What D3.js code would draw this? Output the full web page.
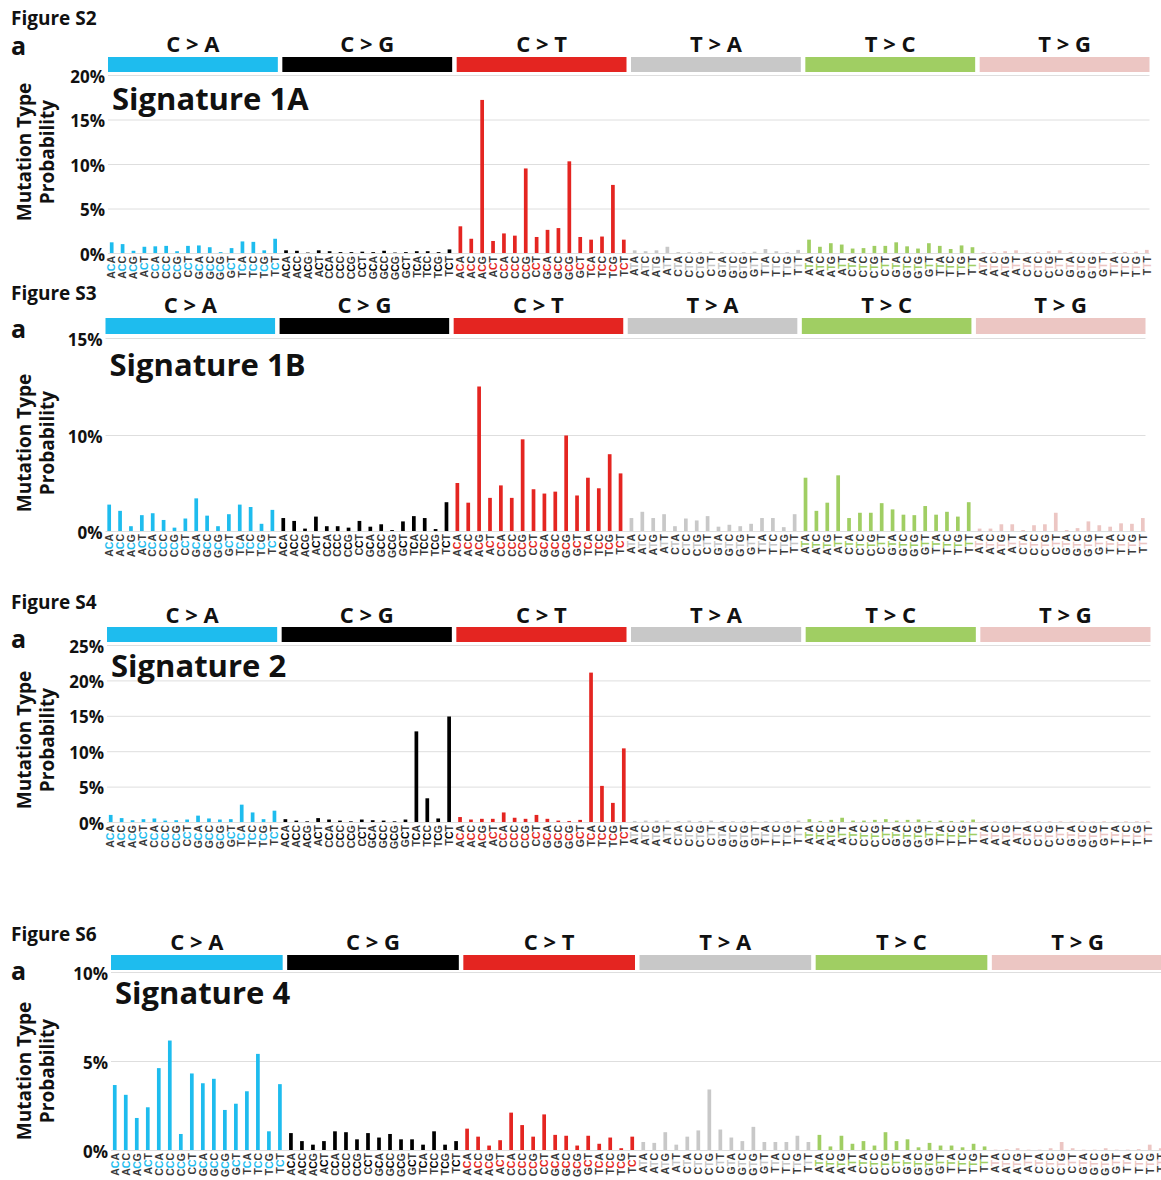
<!DOCTYPE html>
<html>
<head>
<meta charset="utf-8">
<script src="https://cdn.jsdelivr.net/npm/d3@7"></script>
<style>
  body { margin: 0; background: #fff; }
  svg { display: block; }
  text { font-family: "Open Sans", sans-serif; font-weight: 700; }
</style>
</head>
<body>
<svg id="chart" width="1161" height="1180"></svg>
<script>
// mutation classes, colours and the 16 trinucleotide contexts (middle base is the mutated one)
var mutationTypes = ["C > A", "C > G", "C > T", "T > A", "T > C", "T > G"];
var typeColors = ["#1ebcee", "#000000", "#e42521", "#c8c8c8", "#a0ce63", "#ecc6c3"];
var contextsC = ["ACA","ACC","ACG","ACT","CCA","CCC","CCG","CCT","GCA","GCC","GCG","GCT","TCA","TCC","TCG","TCT"];
var contextsT = ["ATA","ATC","ATG","ATT","CTA","CTC","CTG","CTT","GTA","GTC","GTG","GTT","TTA","TTC","TTG","TTT"];

// probabilities in %, 16 values per mutation type, in the order above
var sig1A = [
  1.2, 1.0, 0.25, 0.7, 0.75, 0.8, 0.2, 0.8, 0.85, 0.65, 0.1, 0.55, 1.3, 1.25, 0.3, 1.6,
  0.3, 0.25, 0.05, 0.3, 0.2, 0.1, 0.1, 0.15, 0.1, 0.25, 0.05, 0.1, 0.2, 0.2, 0.1, 0.4,
  3.0, 1.6, 17.2, 1.35, 2.2, 1.95, 9.5, 1.8, 2.6, 2.8, 10.3, 1.8, 1.5, 1.85, 7.65, 1.5,
  0.3, 0.2, 0.3, 0.7, 0.1, 0.1, 0.1, 0.15, 0.1, 0.05, 0.1, 0.15, 0.45, 0.2, 0.1, 0.35,
  1.5, 0.7, 1.1, 0.95, 0.5, 0.55, 0.8, 0.8, 1.2, 0.75, 0.5, 1.1, 0.8, 0.45, 0.85, 0.65,
  0.1, 0.1, 0.2, 0.3, 0.05, 0.1, 0.2, 0.3, 0.1, 0.05, 0.05, 0.1, 0.1, 0.1, 0.15, 0.35
];
var sig1B = [
  2.75, 2.1, 0.5, 1.65, 1.85, 1.15, 0.35, 1.3, 3.4, 1.6, 0.5, 1.75, 2.75, 2.5, 0.75, 2.2,
  1.35, 1.05, 0.25, 1.5, 0.5, 0.5, 0.35, 1.05, 0.45, 0.7, 0.1, 1.0, 1.55, 1.35, 0.2, 3.0,
  5.0, 2.95, 12.5, 3.45, 4.75, 3.45, 9.55, 4.35, 3.9, 4.1, 9.95, 3.7, 5.55, 4.45, 8.0, 6.0,
  1.35, 2.0, 1.35, 1.75, 0.5, 1.3, 1.1, 1.55, 0.45, 0.65, 0.5, 0.75, 1.35, 1.35, 0.4, 1.75,
  5.55, 2.1, 2.95, 5.8, 1.35, 1.9, 1.9, 2.9, 2.25, 1.7, 1.65, 2.6, 1.7, 2.0, 1.5, 3.0,
  0.25, 0.25, 0.7, 0.7, 0.1, 0.6, 0.7, 1.9, 0.1, 0.3, 1.0, 0.6, 0.45, 0.8, 0.75, 1.35
];
var sig2 = [
  1.0, 0.55, 0.25, 0.4, 0.5, 0.2, 0.25, 0.35, 0.9, 0.5, 0.35, 0.4, 2.45, 1.35, 0.4, 1.6,
  0.4, 0.2, 0.1, 0.55, 0.35, 0.2, 0.1, 0.35, 0.25, 0.2, 0.1, 0.35, 12.8, 3.35, 0.5, 14.9,
  0.7, 0.35, 0.45, 0.45, 1.35, 0.6, 0.45, 1.0, 0.45, 0.2, 0.15, 0.3, 21.1, 5.1, 2.7, 10.4,
  0.15, 0.2, 0.2, 0.2, 0.1, 0.2, 0.15, 0.2, 0.1, 0.1, 0.1, 0.1, 0.1, 0.1, 0.1, 0.2,
  0.4, 0.15, 0.3, 0.6, 0.2, 0.2, 0.3, 0.4, 0.2, 0.3, 0.35, 0.15, 0.2, 0.15, 0.2, 0.35,
  0.05, 0.1, 0.05, 0.05, 0.1, 0.1, 0.1, 0.1, 0.05, 0.1, 0.05, 0.1, 0.05, 0.1, 0.1, 0.15
];
var sig4 = [
  3.65, 3.1, 1.8, 2.4, 4.6, 6.15, 0.9, 4.3, 3.75, 4.0, 2.25, 2.6, 3.3, 5.4, 1.05, 3.7,
  0.95, 0.5, 0.3, 0.5, 1.05, 1.0, 0.6, 0.95, 0.7, 0.9, 0.6, 0.6, 0.3, 1.05, 0.3, 0.5,
  1.2, 0.75, 0.25, 0.55, 2.1, 1.4, 0.75, 2.0, 0.85, 0.8, 0.25, 0.8, 0.35, 0.7, 0.1, 0.75,
  0.45, 0.4, 1.0, 0.3, 0.75, 1.1, 3.4, 1.15, 0.7, 0.5, 1.3, 0.45, 0.45, 0.45, 0.8, 0.45,
  0.85, 0.2, 0.8, 0.35, 0.5, 0.25, 1.0, 0.5, 0.6, 0.15, 0.4, 0.25, 0.25, 0.15, 0.35, 0.2,
  0.02, 0.05, 0.1, 0.02, 0.02, 0.1, 0.45, 0.1, 0.02, 0.02, 0.1, 0.02, 0.02, 0.05, 0.3, 0.1
];

// y ticks (%) of each panel
var ticks1A = [0, 5, 10, 15, 20];
var ticks1B = [0, 10, 15];
var ticks2 = [0, 5, 10, 15, 20, 25];
var ticks4 = [0, 5, 10];

// build the 96 categories
var categories = [];
mutationTypes.forEach(function(t, ti) {
  var ctx = ti < 3 ? contextsC : contextsT;
  ctx.forEach(function(c) {
    categories.push({ type: ti, ctx: c, key: t + ":" + c });
  });
});

// layout of the four stacked panels (pixel positions only)
var panels = [
  { fig: "Figure S2", name: "Signature 1A", values: sig1A, ticks: ticks1A,
    yRange: [253, 75], figY: 25, aY: 55, catY: 52, segY: 57, segH: 15, nameY: 110, titleY: 152, x0: 108, x1: 1154 },
  { fig: "Figure S3", name: "Signature 1B", values: sig1B, ticks: ticks1B,
    yRange: [531, 435, 338], figY: 300, aY: 338, catY: 313, segY: 318, segH: 16, nameY: 376, titleY: 443, x0: 105.5, x1: 1150 },
  { fig: "Figure S4", name: "Signature 2", values: sig2, ticks: ticks2,
    yRange: [822, 645], figY: 609, aY: 648, catY: 623, segY: 627, segH: 15, nameY: 677, titleY: 740, x0: 107, x1: 1155 },
  { fig: "Figure S6", name: "Signature 4", values: sig4, ticks: ticks4,
    yRange: [1150, 972], figY: 941, aY: 980, catY: 950, segY: 955, segH: 15, nameY: 1004, titleY: 1071, x0: 111, x1: 1168 }
];

var svg = d3.select("#chart");
svg.append("rect").attr("width", 1161).attr("height", 1180).attr("fill", "#fff");

function drawPanel(p) {
  var g = svg.append("g");
  var gap = 4.5;

  var x = d3.scaleBand().domain(categories.map(d => d.key)).range([p.x0, p.x1]);
  var step = x.step();

  // piecewise when the ticks are not evenly spread (panel 1B)
  var yDomain = p.yRange.length === 2 ? [0, p.ticks[p.ticks.length - 1]] : p.ticks;
  var y = d3.scaleLinear().domain(yDomain).range(p.yRange);

  // gridlines + tick labels
  var yAxis = d3.axisLeft(y)
    .tickValues(p.ticks)
    .tickSize(-(p.x1 - p.x0 - gap))
    .tickPadding(3)
    .tickFormat(d => d + "%");
  var ax = g.append("g").attr("transform", `translate(${p.x0},0)`).call(yAxis);
  ax.select(".domain").remove();
  ax.selectAll(".tick line").attr("stroke", "#dedede").attr("stroke-width", 1);
  ax.selectAll(".tick text")
    .attr("fill", "#111")
    .style("font-size", "17px")
    .style("font-family", "'Open Sans', sans-serif")
    .style("font-weight", 700)
    .attr("dy", "0.42em");

  // coloured class strips with their titles
  mutationTypes.forEach(function(t, ti) {
    var first = x(t + ":" + (ti < 3 ? contextsC : contextsT)[0]);
    var w = step * 16 - gap;
    g.append("rect")
      .attr("x", first).attr("y", p.segY)
      .attr("width", w).attr("height", p.segH)
      .attr("fill", typeColors[ti]);
    g.append("text")
      .attr("x", first + w / 2).attr("y", p.catY)
      .attr("text-anchor", "middle")
      .style("font-size", "22px")
      .attr("fill", "#111")
      .text(t);
  });

  // bars
  var bw = 3.7;
  var cx = d => x(d.key) + (step - gap) / 2 + 0.5;
  g.selectAll("rect.bar")
    .data(categories.map((c, i) => Object.assign({ v: p.values[i] }, c)))
    .join("rect")
    .attr("class", "bar")
    .attr("x", d => cx(d) - bw / 2)
    .attr("y", d => y(d.v))
    .attr("width", bw)
    .attr("height", d => y(0) - y(d.v))
    .attr("fill", d => typeColors[d.type]);

  // rotated trinucleotide labels, middle base coloured
  var lab = g.selectAll("text.ctx")
    .data(categories)
    .join("text")
    .attr("class", "ctx")
    .attr("transform", d => `translate(${cx(d)},${y(0) + 3}) rotate(-90)`)
    .attr("text-anchor", "end")
    .attr("dy", "0.36em")
    .style("font-family", "'Liberation Sans', Arial, sans-serif")
    .style("font-size", "10.5px")
    .attr("fill", "#3a3a3a");
  lab.append("tspan").text(d => d.ctx[0]);
  lab.append("tspan").attr("fill", d => typeColors[d.type]).text(d => d.ctx[1]);
  lab.append("tspan").text(d => d.ctx[2]);

  // figure headings
  g.append("text").attr("x", 11).attr("y", p.figY)
    .style("font-size", "19px").attr("fill", "#111").text(p.fig);
  g.append("text").attr("x", 11).attr("y", p.aY)
    .style("font-size", "25px").attr("fill", "#111").text("a");
  g.append("text").attr("x", p.x0 + 4).attr("y", p.nameY)
    .style("font-size", "31px").attr("fill", "#111").text(p.name);

  // y axis title on two lines
  g.append("text")
    .attr("transform", `translate(31,${p.titleY}) rotate(-90)`)
    .attr("text-anchor", "middle")
    .style("font-size", "19px").attr("fill", "#111")
    .text("Mutation Type");
  g.append("text")
    .attr("transform", `translate(54,${p.titleY}) rotate(-90)`)
    .attr("text-anchor", "middle")
    .style("font-size", "19px").attr("fill", "#111")
    .text("Probability");
}

panels.forEach(drawPanel);
</script>
</body>
</html>
